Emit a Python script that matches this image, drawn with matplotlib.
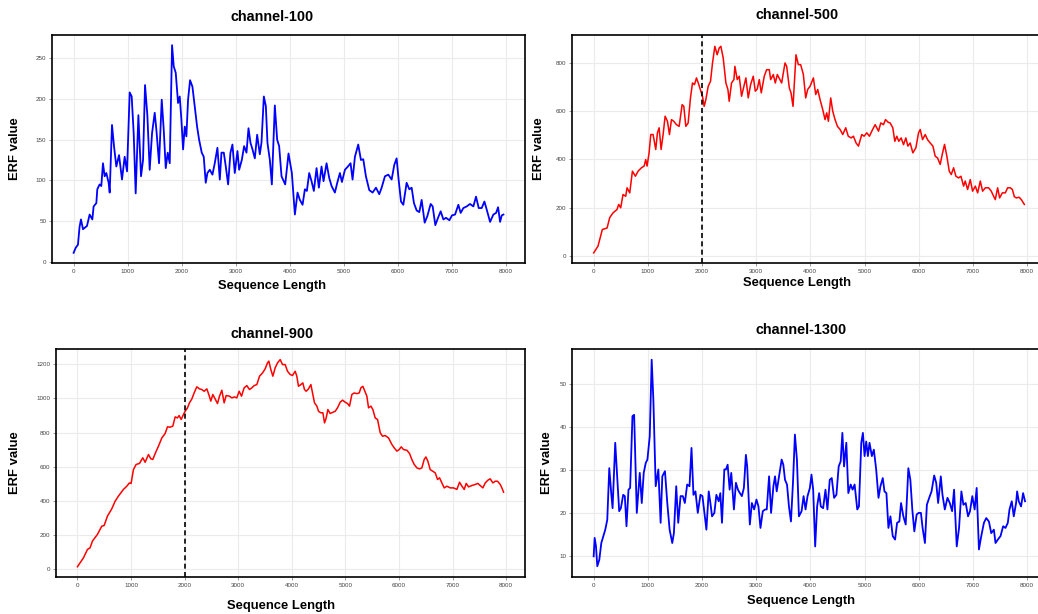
import matplotlib
matplotlib.use("Agg")
import matplotlib.pyplot as plt

plt.rcParams["font.family"] = ["Liberation Sans", "DejaVu Sans"]

# ---- data (sequence position, ERF value) ----
ch100_x = [0, 37, 80, 110, 136, 173, 247, 296, 346, 370, 420, 438, 481, 512, 543, 574, 605, 648, 667,
           710, 747, 790, 840, 895, 944, 988, 1037, 1074, 1111, 1148, 1198, 1247, 1284, 1321, 1364,
           1407, 1451, 1500, 1531, 1580, 1630, 1667, 1704, 1741, 1778, 1821, 1852, 1889, 1932, 1963,
           1994, 2025, 2056, 2086, 2117, 2154, 2198, 2241, 2284, 2321, 2370, 2407, 2444, 2475, 2519,
           2568, 2611, 2660, 2704, 2735, 2778, 2815, 2858, 2901, 2938, 2981, 3031, 3062, 3111, 3154,
           3198, 3235, 3272, 3309, 3352, 3395, 3444, 3475, 3519, 3556, 3586, 3630, 3667, 3722, 3765,
           3802, 3846, 3914, 3975, 4037, 4093, 4142, 4185, 4235, 4278, 4315, 4358, 4401, 4444, 4494,
           4537, 4586, 4623, 4679, 4728, 4772, 4833, 4877, 4926, 4963, 5019, 5074, 5123, 5160, 5204,
           5265, 5315, 5358, 5407, 5469, 5531, 5593, 5654, 5698, 5759, 5821, 5883, 5932, 5975, 6012,
           6056, 6099, 6160, 6210, 6253, 6296, 6346, 6395, 6438, 6494, 6543, 6605, 6642, 6691, 6741,
           6790, 6840, 6889, 6951, 7000, 7056, 7117, 7160, 7210, 7272, 7333, 7395, 7444, 7494, 7549,
           7599, 7642, 7704, 7765, 7815, 7852, 7889, 7920, 7951]
ch100_y = [11, 17, 21, 43, 52, 40, 44, 58, 52, 68, 72, 89, 95, 93, 121, 105, 109, 97, 85,
           168, 142, 117, 131, 101, 129, 111, 208, 203, 158, 84, 180, 105, 125, 217, 180,
           113, 158, 183, 162, 121, 199, 162, 115, 134, 121, 266, 240, 232, 195, 203,
           174, 138, 166, 154, 199, 223, 215, 191, 166, 150, 134, 129, 97, 109, 113,
           107, 121, 140, 101, 134, 134, 117, 95, 134, 144, 109, 136, 113, 125, 142,
           134, 164, 146, 138, 127, 156, 132, 146, 203, 191, 146, 125, 95, 192, 150,
           142, 105, 95, 133, 109, 58, 85, 76, 70, 89, 87, 109, 99, 87, 115,
           91, 117, 99, 121, 103, 93, 85, 97, 109, 98, 113, 117, 121, 101, 129,
           144, 125, 126, 105, 88, 85, 91, 83, 91, 105, 107, 101, 119, 127, 101,
           74, 70, 97, 89, 91, 72, 63, 61, 76, 48, 56, 71, 68, 45, 54,
           62, 52, 54, 51, 57, 58, 70, 60, 66, 68, 71, 68, 80, 66, 66,
           74, 64, 49, 58, 60, 67, 49, 57, 58]

ch500_x = [0, 80, 160, 247, 296, 357, 431, 462, 499, 542, 592, 616, 666, 715, 770, 820, 881, 931, 961,
           986, 1023, 1054, 1097, 1146, 1177, 1208, 1245, 1282, 1319, 1362, 1399, 1436, 1479, 1528,
           1578, 1633, 1664, 1701, 1744, 1787, 1824, 1861, 1898, 1941, 1978, 2009, 2040, 2071, 2114,
           2157, 2194, 2237, 2280, 2317, 2348, 2391, 2441, 2478, 2502, 2545, 2589, 2607, 2650, 2687,
           2730, 2774, 2810, 2853, 2897, 2946, 2983, 3020, 3057, 3094, 3149, 3193, 3242, 3267, 3316,
           3353, 3390, 3439, 3470, 3532, 3563, 3612, 3643, 3680, 3735, 3778, 3821, 3871, 3914, 3951,
           3994, 4056, 4099, 4136, 4179, 4228, 4271, 4302, 4333, 4376, 4413, 4456, 4500, 4549, 4598,
           4653, 4700, 4752, 4795, 4844, 4888, 4949, 4992, 5042, 5091, 5134, 5196, 5258, 5300, 5350,
           5387, 5436, 5473, 5522, 5559, 5596, 5633, 5676, 5720, 5763, 5800, 5843, 5892, 5948, 5997,
           6028, 6071, 6120, 6163, 6212, 6262, 6305, 6348, 6397, 6434, 6477, 6520, 6564, 6601, 6644,
           6687, 6736, 6780, 6829, 6859, 6903, 6952, 6995, 7045, 7088, 7137, 7180, 7230, 7291, 7340,
           7383, 7414, 7457, 7494, 7544, 7599, 7642, 7692, 7729, 7766, 7803, 7852, 7895, 7950]
ch500_y = [12, 40, 109, 115, 158, 178, 192, 213, 199, 254, 247, 282, 261, 351, 330, 351, 365, 372, 399,
           372, 427, 503, 503, 441, 510, 531, 441, 503, 579, 558, 503, 565, 558, 544,
           537, 627, 620, 537, 551, 655, 717, 710, 738, 710, 683, 662, 620, 648, 703,
           724, 800, 869, 834, 862, 869, 821, 717, 690, 641, 717, 731, 786, 731, 745,
           662, 703, 738, 655, 710, 745, 683, 692, 731, 676, 745, 772, 772, 731, 752,
           717, 752, 731, 717, 800, 786, 696, 676, 620, 834, 793, 793, 752, 655, 690,
           703, 738, 669, 690, 648, 607, 565, 593, 558, 655, 600, 565, 537, 524, 503,
           531, 496, 489, 496, 468, 455, 503, 496, 510, 496, 517, 544, 517, 551, 544,
           565, 554, 551, 531, 475, 496, 475, 489, 461, 489, 455, 468, 427, 448, 510,
           524, 482, 503, 482, 468, 455, 413, 406, 379, 420, 462, 413, 351, 337, 365,
           330, 323, 330, 289, 310, 275, 316, 268, 289, 261, 310, 268, 282, 282, 268,
           247, 233, 282, 240, 261, 261, 282, 282, 275, 245, 240, 243, 233, 213]

ch900_x = [0, 112, 187, 236, 280, 373, 454, 498, 560, 641, 703, 765, 858, 921, 970, 1001, 1045, 1095,
           1157, 1219, 1263, 1325, 1369, 1406, 1456, 1512, 1574, 1636, 1680, 1729, 1779, 1823, 1866,
           1897, 1935, 1978, 2009, 2053, 2090, 2134, 2177, 2227, 2277, 2320, 2364, 2414, 2457, 2488,
           2526, 2569, 2613, 2650, 2694, 2737, 2775, 2837, 2880, 2930, 2973, 3017, 3061, 3110, 3160,
           3210, 3253, 3297, 3347, 3397, 3453, 3502, 3546, 3571, 3608, 3646, 3689, 3733, 3783, 3826,
           3876, 3919, 3969, 4012, 4062, 4093, 4124, 4168, 4205, 4236, 4267, 4311, 4355, 4392, 4423,
           4467, 4498, 4541, 4579, 4610, 4641, 4672, 4715, 4765, 4809, 4852, 4902, 4946, 4995, 5039,
           5076, 5120, 5163, 5213, 5257, 5288, 5325, 5363, 5400, 5431, 5475, 5512, 5555, 5599, 5649,
           5692, 5742, 5804, 5866, 5910, 5960, 6003, 6040, 6084, 6146, 6196, 6239, 6283, 6333, 6382,
           6426, 6469, 6501, 6538, 6581, 6625, 6675, 6718, 6756, 6799, 6843, 6893, 6955, 7017, 7079,
           7129, 7173, 7216, 7253, 7297, 7359, 7421, 7471, 7515, 7564, 7608, 7658, 7701, 7751, 7795,
           7838, 7888, 7919, 7950]
ch900_y = [16, 68, 117, 127, 166, 205, 253, 257, 312, 355, 399, 429, 468, 487, 506, 503, 584, 614,
           620, 653, 627, 672, 647, 643, 682, 721, 769, 795, 834, 832, 838, 892, 886,
           900, 877, 906, 925, 945, 974, 997, 1032, 1068, 1056, 1052, 1042, 1056, 1017, 984,
           1023, 997, 970, 1013, 1048, 974, 1017, 1013, 1003, 1009, 1003, 1042, 1013, 1062, 1075,
           1052, 1062, 1075, 1081, 1130, 1149, 1173, 1208, 1218, 1169, 1130, 1179, 1208, 1227, 1198,
           1198, 1159, 1140, 1134, 1159, 1130, 1071, 1081, 1091, 1052, 1042, 1056, 1081, 1023, 974,
           955, 925, 916, 916, 857, 886, 935, 912, 919, 925, 945, 978, 990, 978, 970,
           955, 1023, 1032, 1028, 1032, 1062, 1071, 1042, 1013, 945, 955, 935, 886, 877, 799,
           779, 783, 769, 731, 711, 692, 701, 717, 701, 697, 678, 643, 614, 594, 588,
           594, 643, 658, 633, 584, 575, 565, 526, 536, 506, 477, 487, 477, 477, 468,
           510, 487, 468, 503, 483, 491, 497, 503, 491, 477, 506, 522, 530, 506, 516,
           516, 497, 477, 452]

ch1300_x = [0, 18, 43, 67, 104, 141, 178, 214, 251, 288, 324, 349, 398, 441, 471, 502, 545, 575, 606,
            643, 673, 716, 747, 796, 851, 888, 924, 961, 992, 1035, 1071, 1102, 1145, 1194, 1236,
            1267, 1316, 1359, 1402, 1451, 1481, 1524, 1561, 1604, 1646, 1683, 1726, 1769, 1806, 1842,
            1879, 1922, 1971, 2008, 2045, 2081, 2124, 2155, 2185, 2228, 2265, 2308, 2338, 2369, 2412,
            2442, 2473, 2510, 2540, 2589, 2626, 2663, 2699, 2736, 2773, 2810, 2834, 2883, 2920, 2963,
            3005, 3042, 3079, 3122, 3165, 3195, 3238, 3275, 3318, 3348, 3379, 3422, 3470, 3501, 3532,
            3569, 3605, 3642, 3679, 3715, 3752, 3789, 3838, 3875, 3911, 3948, 3991, 4021, 4052, 4089,
            4125, 4162, 4193, 4236, 4279, 4315, 4358, 4395, 4438, 4481, 4523, 4560, 4591, 4622, 4664,
            4701, 4744, 4780, 4817, 4866, 4897, 4940, 4970, 5001, 5031, 5062, 5092, 5135, 5172, 5215,
            5258, 5294, 5337, 5368, 5404, 5441, 5478, 5521, 5564, 5601, 5643, 5674, 5717, 5760, 5809,
            5846, 5882, 5919, 5962, 5998, 6041, 6072, 6115, 6151, 6194, 6237, 6286, 6323, 6359, 6408,
            6439, 6482, 6531, 6574, 6617, 6653, 6702, 6745, 6788, 6825, 6868, 6911, 6947, 6990, 7033,
            7070, 7112, 7155, 7204, 7247, 7296, 7339, 7388, 7418, 7461, 7510, 7559, 7602, 7645, 7676,
            7718, 7755, 7798, 7817, 7847, 7890, 7927, 7963]
ch1300_y = [10.0, 14.3, 12.3, 7.7, 9.2, 13.1, 14.7, 16.2, 18.5, 30.5, 24.7, 21.2, 36.4, 27.1, 20.5, 21.2,
            24.3, 24.0, 17.0, 25.5, 25.9, 42.6, 42.9, 20.1, 29.4, 22.4, 29.4, 31.7, 32.5, 37.9, 55.7,
            46.4, 26.3, 30.2, 17.8, 28.6, 29.8, 22.4, 16.2, 13.1, 15.4, 26.3, 17.8, 24.0, 24.0, 22.4,
            26.7, 26.3, 35.2, 24.3, 25.1, 20.1, 24.3, 24.0, 20.1, 16.2, 25.1, 22.4, 19.3, 20.1, 24.3,
            22.8, 24.7, 17.8, 30.2, 30.2, 31.3, 25.5, 29.4, 20.9, 27.1, 25.5, 24.7, 24.0, 25.9, 33.6,
            30.9, 17.4, 22.4, 20.9, 23.2, 21.6, 16.6, 20.5, 20.9, 20.9, 28.6, 20.1, 26.3, 28.6, 25.1,
            28.6, 32.5, 31.3, 27.8, 26.7, 21.6, 18.1, 27.1, 38.3, 32.5, 19.3, 20.5, 24.0, 20.9, 24.0,
            25.9, 29.0, 25.5, 12.3, 21.6, 24.7, 21.6, 21.2, 25.5, 20.9, 27.8, 28.2, 23.6, 24.3, 30.9,
            32.1, 38.7, 30.9, 36.4, 24.7, 26.7, 25.5, 26.7, 20.9, 21.6, 36.4, 38.7, 33.3, 36.7, 33.3,
            36.4, 33.3, 34.8, 30.2, 23.6, 26.3, 28.2, 25.1, 24.7, 16.6, 19.3, 14.7, 13.9, 17.8, 18.1,
            22.4, 19.3, 17.4, 30.5, 27.8, 20.9, 15.8, 19.7, 20.1, 20.1, 16.6, 13.1, 22.0, 23.6, 25.1,
            28.8, 27.1, 22.4, 28.6, 24.3, 20.9, 23.6, 22.4, 20.5, 25.5, 12.3, 16.6, 25.1, 22.0, 22.4,
            19.3, 20.5, 24.0, 20.9, 25.9, 11.6, 14.7, 17.8, 18.9, 18.1, 15.4, 16.2, 13.1, 13.9, 14.7,
            17.0, 16.6, 17.8, 20.9, 22.8, 19.3, 22.4, 25.1, 22.8, 21.6, 24.7, 22.8]

FIG_W, FIG_H = 1038, 614


def px_box(left, top, right, bottom):
    # pixel box -> figure fraction [l, b, w, h]
    return [left / FIG_W, 1 - bottom / FIG_H, (right - left) / FIG_W, (bottom - top) / FIG_H]


def fx(x):
    return x / FIG_W


def fy(y):
    return 1 - y / FIG_H


panels = [
    # name, x, y, colour, ylim, yticks, dashed line, axes box,
    # (title x, title y), (xlabel x, xlabel y), ylabel x
    ("channel-100", ch100_x, ch100_y, "#0000ff", (-1.5, 278.5), range(0, 251, 50), False,
     (52, 35, 525, 263), (272, 17), (272, 286), 15),
    ("channel-500", ch500_x, ch500_y, "#ff0000", (-30, 916), range(0, 801, 200), True,
     (572, 35, 1046, 263), (797, 15), (797, 283), 539),
    ("channel-900", ch900_x, ch900_y, "#ff0000", (-44, 1289), range(0, 1201, 200), True,
     (56, 349, 525, 577), (272, 334), (281, 606), 15),
    ("channel-1300", ch1300_x, ch1300_y, "#0000ff", (5.2, 58.2), range(10, 51, 10), False,
     (572, 349, 1046, 577), (801, 330), (801, 601), 547),
]

fig = plt.figure(figsize=(FIG_W / 100, FIG_H / 100), dpi=100)

for name, xs, ys, color, ylim, yticks, dashed, box, t_pos, xl_pos, yl_x in panels:
    ax = fig.add_axes(px_box(*box))
    ax.plot(xs, ys, color=color, linewidth=1.3 if color == "#0000ff" else 1.1)
    if dashed:
        ax.axvline(2000, color="black", linestyle=(0, (3, 2)), linewidth=1.2)

    ax.set_xlim(-400, 8350)
    ax.set_ylim(*ylim)
    ax.set_xticks(range(0, 8001, 1000))
    ax.set_yticks(list(yticks))
    ax.tick_params(labelsize=4.5, labelcolor="#444444", color="#888888", length=2, width=0.6, pad=2)
    ax.grid(True, color="#ebebeb", linewidth=0.8)
    ax.set_axisbelow(True)
    for s in ax.spines.values():
        s.set_color("black")
        s.set_linewidth(1.2)

    fig.text(fx(t_pos[0]), fy(t_pos[1]), name, ha="center", va="center", fontsize=10.4,
             fontweight="bold")
    fig.text(fx(xl_pos[0]), fy(xl_pos[1]), "Sequence Length", ha="center", va="center",
             fontsize=9.4, fontweight="bold")
    fig.text(fx(yl_x), fy((box[1] + box[3]) / 2), "ERF value", ha="center", va="center",
             rotation=90, fontsize=9.4, fontweight="bold")

fig.savefig("out.png", dpi=100)
